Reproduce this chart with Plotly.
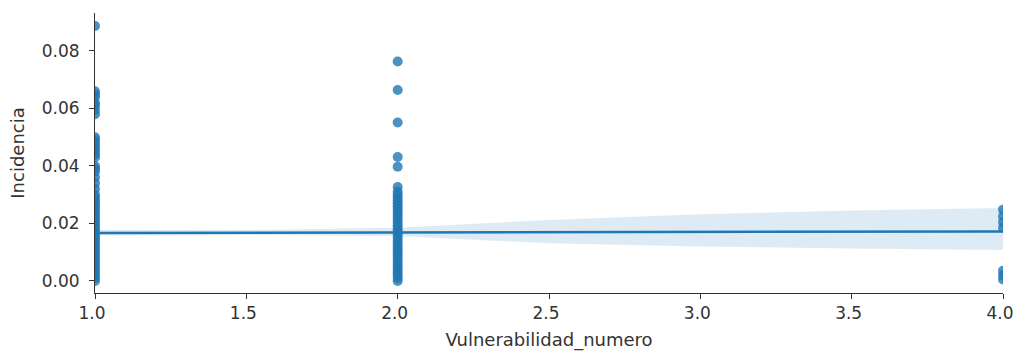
import plotly.graph_objects as go

# Scatter data
x1_vals = [0.0887, 0.066, 0.065, 0.064, 0.062, 0.061, 0.0595, 0.058,
           0.050, 0.049, 0.048, 0.047, 0.046, 0.045, 0.044, 0.043,
           0.040, 0.039, 0.038, 0.036, 0.034, 0.032, 0.030, 0.029, 0.028,
           0.027, 0.026, 0.025, 0.024, 0.023, 0.022, 0.021, 0.020, 0.019,
           0.018, 0.017, 0.016, 0.015, 0.014, 0.013, 0.012, 0.011, 0.010,
           0.009, 0.008, 0.007, 0.006, 0.005, 0.004, 0.003, 0.002, 0.001, 0.000]
x2_vals = [0.0763, 0.0664, 0.0551, 0.0431, 0.0397, 0.0327, 0.031, 0.030,
           0.029, 0.028, 0.027, 0.026, 0.025, 0.024, 0.023, 0.022, 0.021,
           0.020, 0.019, 0.018, 0.017, 0.016, 0.015, 0.014, 0.013, 0.012,
           0.011, 0.010, 0.009, 0.008, 0.007, 0.006, 0.005, 0.004, 0.003,
           0.002, 0.001, 0.000]
x4_vals = [0.0248, 0.0225, 0.0205, 0.0185, 0.0035, 0.0020, 0.0005]

# Regression line and confidence band
reg_x = [1.0, 1.5, 2.0, 2.5, 3.0, 3.5, 4.0]
reg_y = [0.0167, 0.0168, 0.0169, 0.0170, 0.0170, 0.0171, 0.0172]
ci_lo = [0.0158, 0.0160, 0.0156, 0.0131, 0.0120, 0.0113, 0.0108]
ci_hi = [0.0178, 0.0177, 0.0185, 0.0212, 0.0232, 0.0245, 0.0254]

x_ticks = [1.0, 1.5, 2.0, 2.5, 3.0, 3.5, 4.0]
y_ticks = [0.00, 0.02, 0.04, 0.06, 0.08]

blue = "#1f77b4"

xs = [1.0] * len(x1_vals) + [2.0] * len(x2_vals) + [4.0] * len(x4_vals)
ys = x1_vals + x2_vals + x4_vals

fig = go.Figure()
fig.add_trace(go.Scatter(
    x=reg_x + reg_x[::-1], y=ci_hi + ci_lo[::-1], fill="toself",
    fillcolor="rgba(31,119,180,0.15)", line=dict(width=0), mode="lines",
    showlegend=False, hoverinfo="skip"))
fig.add_trace(go.Scatter(
    x=xs, y=ys, mode="markers",
    marker=dict(color=blue, size=10, opacity=0.8, line=dict(width=0)),
    cliponaxis=True, showlegend=False, hoverinfo="skip"))
fig.add_trace(go.Scatter(
    x=reg_x, y=reg_y, mode="lines", line=dict(color=blue, width=2.5),
    showlegend=False, hoverinfo="skip"))

tick_font = dict(family="DejaVu Sans", size=17, color="#333333")
title_font = dict(family="DejaVu Sans", size=18, color="#333333")
fig.update_layout(
    width=1014, height=353,
    margin=dict(l=95, r=11, t=13, b=60),
    paper_bgcolor="white", plot_bgcolor="white",
    font=tick_font,
    xaxis=dict(range=[1.0, 4.0], tickvals=x_ticks,
               ticktext=[f"{v:.1f}" for v in x_ticks],
               tickfont=tick_font, automargin=False,
               ticklabeloverflow="allow", ticklabelshift=-3,
               showgrid=False, zeroline=False, showline=True,
               linecolor="#333333", linewidth=1, ticks="outside",
               ticklen=5, tickcolor="#333333",
               title=dict(text="Vulnerabilidad_numero", font=title_font, standoff=10)),
    yaxis=dict(range=[-0.0042, 0.0932], tickvals=y_ticks,
               ticktext=[f"{v:.2f}" for v in y_ticks],
               tickfont=tick_font, automargin=False,
               ticklabeloverflow="allow", ticklabelstandoff=6,
               showgrid=False, zeroline=False, showline=True,
               linecolor="#333333", linewidth=1, ticks="outside",
               ticklen=5, tickcolor="#333333",
               title=dict(text="Incidencia", font=title_font, standoff=12)),
)

fig.write_html(
    "out.html",
    config={"displayModeBar": False},
    post_script="document.body.style.margin='0px';document.body.style.padding='0px';",
)
